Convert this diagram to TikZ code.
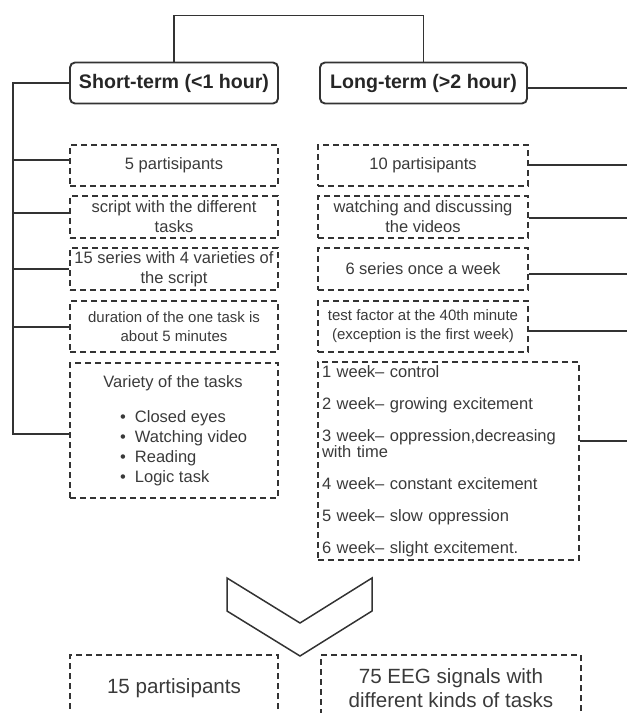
\documentclass[tikz,border=0pt]{standalone}
\usepackage{fontspec}
\setmainfont{Liberation Sans}
\definecolor{ln}{HTML}{333333}
\definecolor{tx}{HTML}{3A3A3A}
\tikzset{
 hdr/.style={draw=ln, line width=1.9pt, rounded corners=5pt, minimum width=208pt, minimum height=41pt, inner sep=0pt, font=\bfseries\fontsize{19.6}{22}\selectfont, text=black!85},
 dbox/.style={draw=ln, line width=1.8pt, dash pattern=on 6pt off 4pt, minimum width=208pt, inner sep=0pt, align=center, text=tx},
 conn/.style={draw=ln, line width=1.9pt},
 ftxt/.style={font=\fontsize{16.5}{20}\selectfont},
 fsmall/.style={font=\fontsize{15}{19}\selectfont},
 fbig/.style={font=\fontsize{20.6}{24}\selectfont},
}
\begin{document}
\begin{tikzpicture}[x=1pt,y=-1pt]
\useasboundingbox (0,0) rectangle (627,713);
% headers
\node[hdr] (sh) at (174,83) {Short-term (<1 hour)};
\node[hdr, minimum width=207pt] (lg) at (423.5,83) {Long-term (>2 hour)};
\coordinate (top) at (300,15.5);
\draw[conn] (sh.north) -- (sh.north |- top) -- (lg.north |- top) -- (lg.north);
% left column
\node[dbox, ftxt, minimum height=41pt] (l1) at (174,165.5) {5 partisipants};
\node[dbox, ftxt, minimum height=42pt] (l2) at (174,217) {script with the different\\tasks};
\node[dbox, ftxt, minimum height=42pt] (l3) at (174,269) {15 series with 4 varieties of\\the script};
\node[dbox, fsmall, minimum height=51pt] (l4) at (174,326.5) {duration of the one task is\\about 5 minutes};
\node[dbox, minimum height=135pt] (l5) at (174,430.5) {};
\node[ftxt, text=tx, inner sep=0pt] (l5t) at (173,383) {Variety of the tasks};
\node[font=\fontsize{16.5}{20}\selectfont, text=tx, inner sep=0pt, align=left, anchor=west] (l5list) at (120,448)
 {\textbullet\hspace{9pt}Closed eyes\\\textbullet\hspace{9pt}Watching video\\\textbullet\hspace{9pt}Reading\\\textbullet\hspace{9pt}Logic task};
% left trunk
\coordinate (lt5) at (13,434);
\coordinate (lb1) at (13,160);
\coordinate (lb2) at (13,213);
\coordinate (lb3) at (13,269);
\coordinate (lb4) at (13,327);
\draw[conn] (sh.west) -| (lt5) -- (l5.west |- lt5);
\draw[conn] (lb1) -- (l1.west |- lb1);
\draw[conn] (lb2) -- (l2.west |- lb2);
\draw[conn] (lb3) -- (l3.west |- lb3);
\draw[conn] (lb4) -- (l4.west |- lb4);
% right column
\node[dbox, ftxt, minimum width=210pt, minimum height=41pt] (r1) at (423,165.5) {10 partisipants};
\node[dbox, ftxt, minimum width=210pt, minimum height=42pt] (r2) at (423,217) {watching and discussing\\the videos};
\node[dbox, ftxt, minimum width=210pt, minimum height=42pt] (r3) at (423,269) {6 series once a week};
\node[dbox, fsmall, minimum width=210pt, minimum height=51pt] (r4) at (423,326.5) {test factor at the 40th minute\\(exception is the first week)};
\node[dbox, font=\fontsize{16.5}{16}\selectfont, minimum width=261pt, minimum height=198pt, inner xsep=4pt, text width=253pt, align=left] (r5) at (448.5,461)
 {1 week-- control\\[16pt]2 week-- growing excitement\\[16pt]3 week-- oppression,decreasing\\with time\\[16pt]4 week-- constant excitement\\[16pt]5 week-- slow oppression\\[16pt]6 week-- slight excitement.};
% right lines
\coordinate (re0) at (630,88);
\coordinate (re1) at (630,165);
\coordinate (re2) at (630,218);
\coordinate (re3) at (630,274);
\coordinate (re4) at (630,331);
\coordinate (re5) at (630,441);
\draw[conn] (lg.east |- re0) -- (re0);
\draw[conn] (r1.east |- re1) -- (re1);
\draw[conn] (r2.east |- re2) -- (re2);
\draw[conn] (r3.east |- re3) -- (re3);
\draw[conn] (r4.east |- re4) -- (re4);
\draw[conn] (r5.east |- re5) -- (re5);
% chevron
\draw[draw=ln, line width=1.5pt, line join=miter] (227,578) -- (300,623) -- (372,578) -- (372,611) -- (300,656) -- (227,611) -- cycle;
% bottom boxes
\node[dbox, fbig, minimum width=208pt, minimum height=66pt] (b1) at (174,688) {15 partisipants};
\node[dbox, fbig, minimum width=260pt, minimum height=66pt] (b2) at (451,688) {75 EEG signals with\\different kinds of tasks};
\end{tikzpicture}
\end{document}
